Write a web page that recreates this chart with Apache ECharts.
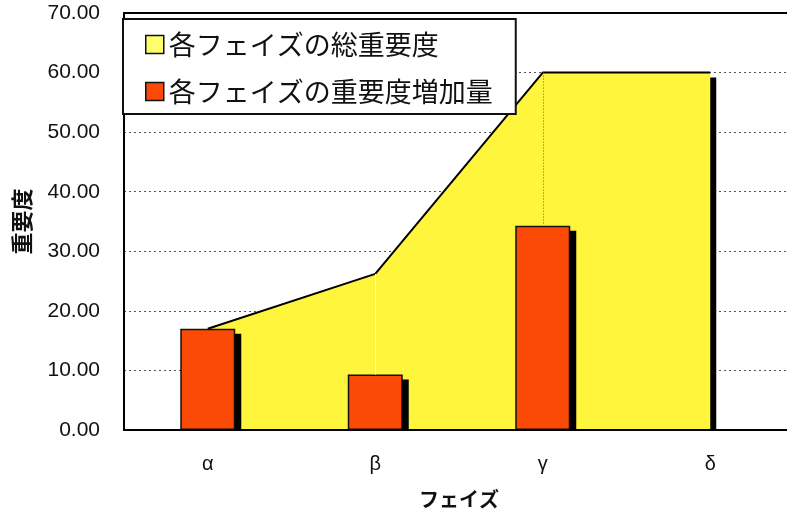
<!DOCTYPE html>
<html>
<head>
<meta charset="utf-8">
<script src="https://cdn.jsdelivr.net/npm/echarts@6/dist/echarts.min.js"></script>
<style>
  html, body { margin: 0; padding: 0; background: #fff; }
  #container { width: 787px; height: 510px; }
</style>
</head>
<body>
<div id="container"></div>
<script>
  // フェイズ毎のデータ
  let phases = ['α', 'β', 'γ', 'δ'];
  let totalImportance = [17.0, 26.2, 60.0, 60.0];   // 各フェイズの総重要度
  let increaseImportance = [17.0, 9.3, 34.3, 0];    // 各フェイズの重要度増加量
  let yTicks = [0, 10, 20, 30, 40, 50, 60, 70];

  let seriesNames = ['各フェイズの総重要度', '各フェイズの重要度増加量'];
  let jpFont = '"Noto Sans CJK JP", sans-serif';
  let numFont = 'Arial, "Liberation Sans", sans-serif';
  let barW = 55;

  let myChart = echarts.init(document.getElementById('container'));

  // 棒の影（右下にずらした黒い矩形）
  function renderShadow(params, api) {
    let v = api.value(1);
    if (!v) {
      return null;
    }
    let top = api.coord([api.value(0), v]);
    let base = api.coord([api.value(0), 0]);
    return {
      type: 'rect',
      shape: {
        x: top[0] - barW / 2 + 6,
        y: top[1] + 5,
        width: barW,
        height: base[1] - top[1] - 5
      },
      style: { fill: '#000' }
    };
  }

  let option = {
    animation: false,
    grid: {
      left: 124,
      top: 13,
      bottom: 80,
      width: 670,
      outerBoundsMode: 'none'
    },
    legend: {
      orient: 'vertical',
      left: 123,
      top: 19,
      z: 20,
      padding: [12, 23, 9, 22],
      itemGap: 20,
      itemWidth: 18,
      itemHeight: 18,
      backgroundColor: '#fff',
      borderColor: '#111',
      borderWidth: 2,
      textStyle: {
        fontFamily: jpFont,
        fontSize: 27,
        color: '#111'
      },
      data: [
        {
          name: seriesNames[0],
          icon: 'rect',
          itemStyle: { color: '#ffff6e', borderColor: '#111', borderWidth: 1.5 }
        },
        {
          name: seriesNames[1],
          icon: 'rect',
          itemStyle: { color: '#fb4a06', borderColor: '#111', borderWidth: 1.5 }
        }
      ]
    },
    xAxis: [
      {
        type: 'category',
        data: phases,
        z: 10,
        name: 'フェイズ',
        nameLocation: 'middle',
        nameGap: 59,
        nameTextStyle: {
          fontFamily: jpFont,
          fontSize: 20,
          fontWeight: 'bold',
          color: '#111'
        },
        axisLine: {
          lineStyle: { color: '#000', width: 2 }
        },
        axisTick: {
          inside: true,
          length: 5,
          lineStyle: { color: '#000', width: 1 }
        },
        axisLabel: {
          margin: 24,
          fontFamily: numFont,
          fontSize: 20,
          color: '#111'
        },
        splitLine: { show: false }
      },
      {
        // 上側の枠線
        type: 'category',
        data: phases,
        position: 'top',
        show: true,
        z: 10,
        axisLine: {
          show: true,
          onZero: false,
          lineStyle: { color: '#000', width: 2 }
        },
        axisTick: { show: false },
        axisLabel: { show: false },
        splitLine: { show: false }
      }
    ],
    yAxis: {
      type: 'value',
      min: 0,
      max: 70,
      interval: 10,
      name: '重要度',
      nameLocation: 'middle',
      nameRotate: 90,
      nameGap: 91,
      nameTextStyle: {
        fontFamily: jpFont,
        fontSize: 22,
        fontWeight: 'bold',
        color: '#111'
      },
      axisLine: {
        show: true,
        lineStyle: { color: '#000', width: 2 }
      },
      axisTick: { show: false },
      axisLabel: {
        margin: 24,
        fontFamily: numFont,
        fontSize: 21,
        color: '#111',
        formatter: function (value) {
          return yTicks.indexOf(value) >= 0 ? value.toFixed(2) : '';
        }
      },
      splitLine: {
        lineStyle: { color: '#555', type: [2, 3], width: 1 }
      }
    },
    series: [
      {
        name: seriesNames[0],
        type: 'line',
        data: totalImportance,
        symbol: 'none',
        z: 2,
        lineStyle: { color: '#000', width: 2 },
        itemStyle: { color: '#ffff6e' },
        areaStyle: {
          color: '#fff53c',
          opacity: 1,
          shadowColor: '#000',
          shadowBlur: 0,
          shadowOffsetX: 6,
          shadowOffsetY: 5
        },
        markLine: {
          silent: true,
          symbol: 'none',
          label: { show: false },
          data: [
            [
              { coord: [phases[1], totalImportance[1]], lineStyle: { color: '#fff', type: 'solid', width: 1 } },
              { coord: [phases[1], increaseImportance[1]] }
            ],
            [
              { coord: [phases[2], totalImportance[2]], lineStyle: { color: '#666', type: [1, 2], width: 1 } },
              { coord: [phases[2], increaseImportance[2]] }
            ]
          ]
        }
      },
      {
        name: 'shadow',
        type: 'custom',
        z: 3,
        silent: true,
        renderItem: renderShadow,
        data: increaseImportance.map(function (v, i) { return [i, v]; })
      },
      {
        name: seriesNames[1],
        type: 'bar',
        data: increaseImportance.map(function (v) { return v === 0 ? '-' : v; }),
        barWidth: barW,
        z: 4,
        itemStyle: {
          color: '#fb4a06',
          borderColor: '#111',
          borderWidth: 1.5
        }
      }
    ]
  };

  if (option && typeof option === 'object') {
    myChart.setOption(option, true);
  }
</script>
</body>
</html>
